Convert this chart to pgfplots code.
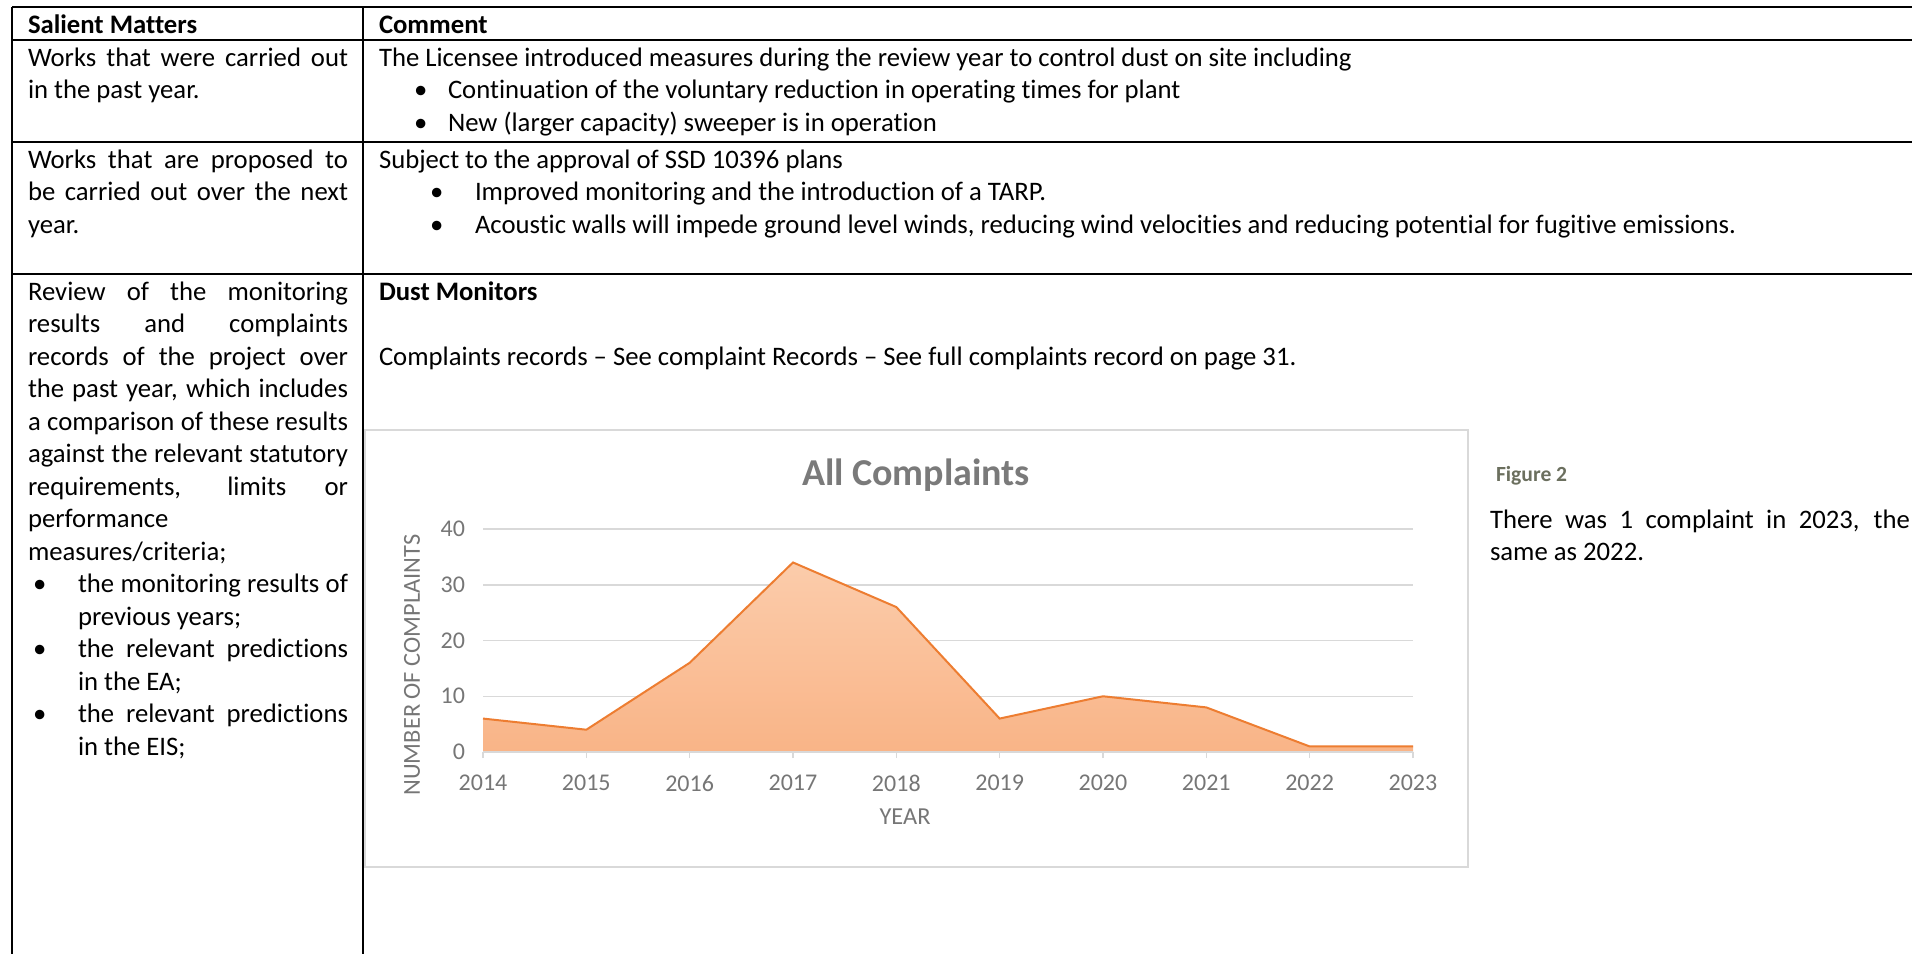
\documentclass[border=0pt]{standalone}
\usepackage{fontspec}
\setmainfont{Carlito}[Ligatures=NoCommon]
\usepackage{pgfplots}
\pgfplotsset{compat=1.18}
\definecolor{ln}{HTML}{ED7D31}
\definecolor{gridc}{HTML}{D9D9D9}
\definecolor{lab}{HTML}{767676}
\definecolor{titlec}{HTML}{7A7A7A}
\definecolor{capc}{HTML}{6B6F5E}
\definecolor{boxc}{HTML}{D9D9D9}
\definecolor{fillT}{HTML}{FBCCAB}
\definecolor{fillB}{HTML}{F9B487}
\newcommand{\J}[2]{\makebox[#1][s]{#2}}
\pgfplotstableread{
x y
2014 6
2015 4
2016 16
2017 34
2018 26
2019 6
2020 10
2021 8
2022 1
2023 1
}\complaints
\begin{document}
\begin{tikzpicture}
\begin{scope}[x=0.5pt,y=-0.5pt, every node/.style={inner sep=0pt, outer sep=0pt, anchor=base west}, font=\fontsize{13.35}{16.25}\selectfont]
\useasboundingbox (0,0) rectangle (1912,954);
% table rules
\draw[line width=1pt] (12,7) -- (1912,7);
\draw[line width=1pt] (12,40) -- (1912,40);
\draw[line width=1pt] (12,142) -- (1912,142);
\draw[line width=1pt] (12,274) -- (1912,274);
\draw[line width=1pt] (12,6.5) -- (12,954);
\draw[line width=1pt] (363,6.5) -- (363,954);
% header
\node at (28,33) {\bfseries Salient Matters};
\node at (379,33) {\bfseries Comment};
% row 1
\node at (28,66) {\J{160pt}{Works that were carried out}};
\node at (28,98.5) {in the past year.};
\node at (379,66) {The Licensee introduced measures during the review year to control dust on site including};
\node at (414,98.5) {\textbullet};
\node at (448,98.5) {Continuation of the voluntary reduction in operating times for plant};
\node at (414,131) {\textbullet};
\node at (448,131) {New (larger capacity) sweeper is in operation};
% row 2
\node at (28,168) {\J{160pt}{Works that are proposed to}};
\node at (28,200.5) {\J{160pt}{be carried out over the next}};
\node at (28,233) {year.};
\node at (379,168) {Subject to the approval of SSD 10396 plans};
\node at (430,200.5) {\textbullet};
\node at (475,200.5) {Improved monitoring and the introduction of a TARP.};
\node at (430,233) {\textbullet};
\node at (475,233) {Acoustic walls will impede ground level winds, reducing wind velocities and reducing potential for fugitive emissions.};
% row 3 left
\node at (28,300) {\J{160pt}{Review of the monitoring}};
\node at (28,332.5) {\J{160pt}{results and complaints}};
\node at (28,365) {\J{160pt}{records of the project over}};
\node at (28,397.5) {\J{160pt}{the past year, which includes}};
\node at (28,430) {\J{160pt}{a comparison of these results}};
\node at (28,462.5) {\J{160pt}{against the relevant statutory}};
\node at (28,495) {\J{160pt}{requirements, limits or}};
\node at (28,527.5) {performance};
\node at (28,560) {measures/criteria;};
\node at (33,592.5) {\textbullet};
\node at (78,592.5) {\J{135pt}{the monitoring results of}};
\node at (78,625) {previous years;};
\node at (33,657.5) {\textbullet};
\node at (78,657.5) {\J{135pt}{the relevant predictions}};
\node at (78,690) {in the EA;};
\node at (33,722.5) {\textbullet};
\node at (78,722.5) {\J{135pt}{the relevant predictions}};
\node at (78,755) {in the EIS;};
% row 3 right
\node at (379,300) {\bfseries Dust Monitors};
\node at (379,365) {Complaints records – See complaint Records – See full complaints record on page 31.};
% chart frame and title
\draw[boxc, line width=0.75pt] (365,430) rectangle (1468,867);
\node[anchor=base, font=\fontsize{19}{21}\selectfont\bfseries, text=titlec] at (916,485) {All Complaints};
% figure caption and comment
\node[font=\fontsize{10.8}{12}\selectfont\bfseries, text=capc] at (1496,481) {Figure 2};
\node at (1490,528) {\J{210pt}{There was 1 complaint in 2023, the}};
\node at (1490,560.5) {same as 2022.};
\coordinate (axSW) at (483,752);
\end{scope}
\begin{axis}[at={(axSW)}, anchor=south west, scale only axis,
  width=465pt, height=111.5pt,
  xmin=2014, xmax=2023, ymin=0, ymax=40,
  xtick={2014,2015,...,2023}, ytick={0,10,20,30,40},
  /pgf/number format/assume math mode=true,
  /pgf/number format/1000 sep={},
  ticklabel style={font=\fontsize{12}{13}\selectfont, text=lab},
  axis line style={draw=none},
  ymajorgrids, grid style={gridc, line width=0.75pt},
  ytick style={draw=none},
  xtick pos=left, tick align=outside,
  xtick style={gridc, line width=0.75pt}, major tick length=3pt,
  yticklabel style={xshift=-2.5pt},
  xticklabel style={yshift=-5pt},
  xlabel={YEAR}, ylabel={NUMBER OF COMPLAINTS},
  every axis x label/.style={at={(axis description cs:0.4538,-0.327)}, anchor=base, font=\fontsize{12.2}{14}\selectfont, text=lab},
  every axis y label/.style={at={(axis description cs:-0.0763,0.39)}, rotate=90, anchor=center, font=\fontsize{12.2}{14}\selectfont, text=lab},
  clip=false,
]
\addplot[draw=none, top color=fillT, bottom color=fillB] table[x=x,y=y] {\complaints} \closedcycle;
\addplot[ln, line width=1pt, mark=none] table[x=x,y=y] {\complaints};
\draw[gridc, line width=0.75pt] (axis cs:2014,0) -- (axis cs:2023,0);
\end{axis}
\end{tikzpicture}
\end{document}
